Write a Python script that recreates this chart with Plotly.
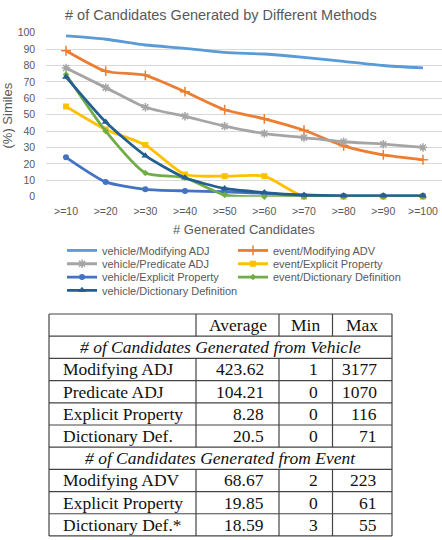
import plotly.graph_objects as go

W, H = 442, 540

categories = [">=10", ">=20", ">=30", ">=40", ">=50", ">=60", ">=70", ">=80", ">=90", ">=100"]
veh_mod_adj = [98, 96, 92.5, 90.5, 88, 87, 85, 82.5, 80, 78.5]
evt_mod_adv = [89, 76.5, 74, 64, 53, 47.5, 40.5, 31, 25.5, 22.5]
veh_pred_adj = [78.5, 66.5, 54.5, 49, 43, 38.5, 36, 33.5, 32, 30]
evt_expl_prop = [55, 41, 31.5, 13.5, 12.5, 12.5, 0, 0, 0, 0]
veh_expl_prop = [24, 9, 4.5, 3.5, 3, 2, 0.5, 0.5, 0.5, 0.5]
evt_dict_def = [74.5, 40, 14.5, 11.5, 1, 0, 0, 0, 0, 0]
veh_dict_def = [73, 45.5, 25, 11.5, 5, 2.5, 1, 0.5, 0.5, 0.5]

series_names = ["vehicle/Modifying ADJ", "event/Modifying ADV", "vehicle/Predicate ADJ",
                "event/Explicit Property", "vehicle/Explicit Property",
                "event/Dictionary Definition", "vehicle/Dictionary Definition"]
series_values = [veh_mod_adj, evt_mod_adv, veh_pred_adj, evt_expl_prop,
                 veh_expl_prop, evt_dict_def, veh_dict_def]

table_header = ["", "Average", "Min", "Max"]
vehicle_section = "# of Candidates Generated from Vehicle"
vehicle_rows = ["Modifying ADJ", "Predicate ADJ", "Explicit Property", "Dictionary Def."]
vehicle_avg = ["423.62", "104.21", "8.28", "20.5"]
vehicle_min = ["1", "0", "0", "0"]
vehicle_max = ["3177", "1070", "116", "71"]
event_section = "# of Candidates Generated from Event"
event_rows = ["Modifying ADV", "Explicit Property", "Dictionary Def.*"]
event_avg = ["68.67", "19.85", "18.59"]
event_min = ["2", "0", "3"]
event_max = ["223", "61", "55"]

colors = ["#5B9BD5", "#ED7D31", "#A5A5A5", "#FFC000", "#4472C4", "#70AD47", "#255E91"]
symbols = [None, "cross-thin", "asterisk", "square", "circle", "diamond", "triangle-up"]
sizes = [0, 7, 7, 6, 6, 5, 7]
legend_ids = ["legend", "legend", "legend2", "legend2", "legend3", "legend3", "legend4"]


def px(x):
    return x / W


def py(y):
    return 1 - y / H


fig = go.Figure()
for i, (name, vals) in enumerate(zip(series_names, series_values)):
    sym = symbols[i]
    if sym is None:
        mode = "lines"
        marker = None
    else:
        mode = "lines+markers"
        if sym in ("cross-thin", "asterisk"):
            marker = dict(symbol=sym, size=sizes[i], color=colors[i],
                          line=dict(color=colors[i], width=1.5))
        else:
            marker = dict(symbol=sym, size=sizes[i], color=colors[i],
                          line=dict(width=0))
    fig.add_trace(go.Scatter(
        x=categories, y=vals, name=name, mode=mode, marker=marker,
        line=dict(color=colors[i], width=2.8, shape="spline", smoothing=0.6),
        legend=legend_ids[i], cliponaxis=False,
    ))

grid = "#D9D9D9"
axis_font = dict(family="Liberation Sans, Arial, sans-serif", size=10.5, color="#595959")
fig.update_layout(
    width=W, height=H,
    margin=dict(l=0, r=0, t=0, b=0),
    paper_bgcolor="white", plot_bgcolor="white",
    xaxis=dict(type="category", domain=[px(46.2), 1], range=[-0.5, 9.48],
               showgrid=False, zeroline=False, showline=False,
               tickfont=axis_font, ticks="", ticklabelstandoff=7),
    yaxis=dict(domain=[py(195), py(27.3)], range=[0, 100], dtick=10,
               showgrid=True, gridcolor=grid, gridwidth=1, zeroline=False, showline=False,
               tickfont=axis_font, ticks="", ticklabelstandoff=10),
    showlegend=True,
)

leg_font = dict(family="Liberation Sans, Arial, sans-serif", size=11, color="#595959")
row_y = [250, 263.6, 277.2, 290.8]
entry_w = [126, 126, 126, 200]
for k, lid in enumerate(["legend", "legend2", "legend3", "legend4"]):
    fig.update_layout({lid: dict(orientation="h", x=px(62), xanchor="left",
                                 y=py(row_y[k]), yanchor="middle",
                                 font=leg_font, entrywidth=entry_w[k], entrywidthmode="pixels",
                                 bgcolor="rgba(0,0,0,0)", borderwidth=0,
                                 itemclick=False, itemdoubleclick=False)})

ann = []
ann.append(dict(text="# of Candidates Generated by Different Methods", x=px(221), y=py(9),
                xref="paper", yref="paper", xanchor="center", yanchor="middle", showarrow=False,
                font=dict(family="Liberation Sans, Arial, sans-serif", size=14.5, color="#595959")))
ann.append(dict(text="# Generated Candidates", x=px(244), y=py(229),
                xref="paper", yref="paper", xanchor="center", yanchor="middle", showarrow=False,
                font=dict(family="Liberation Sans, Arial, sans-serif", size=13, color="#595959")))
ann.append(dict(text="(%) Similes", x=px(8), y=py(112), textangle=-90,
                xref="paper", yref="paper", xanchor="center", yanchor="middle", showarrow=False,
                font=dict(family="Liberation Sans, Arial, sans-serif", size=13, color="#595959")))

# ---- table ----
tfont = dict(family="Liberation Serif, Times New Roman, serif", size=17.5, color="#111111")
col_x = [49, 196, 279, 332.5, 392]
row_top = 315
row_h = 22.7
n_rows = 10
lines = []
lc = "#444444"
lw = 1.2
for r in range(n_rows + 1):
    yy = row_top + r * row_h
    lines.append(dict(type="line", xref="paper", yref="paper", x0=px(col_x[0]), x1=px(col_x[-1]),
                      y0=py(yy), y1=py(yy), line=dict(color=lc, width=lw)))
for xx in (col_x[0], col_x[-1]):
    lines.append(dict(type="line", xref="paper", yref="paper", x0=px(xx), x1=px(xx),
                      y0=py(row_top), y1=py(row_top + n_rows * row_h), line=dict(color=lc, width=lw)))
section_rows = [1, 6]
for r in range(n_rows):
    if r in section_rows:
        continue
    y0 = row_top + r * row_h
    for xx in col_x[1:-1]:
        lines.append(dict(type="line", xref="paper", yref="paper", x0=px(xx), x1=px(xx),
                          y0=py(y0), y1=py(y0 + row_h), line=dict(color=lc, width=lw)))


def cell_center(r):
    return row_top + r * row_h + row_h / 2


for c in range(1, 4):
    ann.append(dict(text=table_header[c], x=px((col_x[c] + col_x[c + 1]) / 2), y=py(cell_center(0)),
                    xref="paper", yref="paper", xanchor="center", yanchor="middle", showarrow=False, font=tfont))
ann.append(dict(text="<i>" + vehicle_section + "</i>", x=px((col_x[0] + col_x[-1]) / 2), y=py(cell_center(1)),
                xref="paper", yref="paper", xanchor="center", yanchor="middle", showarrow=False, font=tfont))
ann.append(dict(text="<i>" + event_section + "</i>", x=px((col_x[0] + col_x[-1]) / 2), y=py(cell_center(6)),
                xref="paper", yref="paper", xanchor="center", yanchor="middle", showarrow=False, font=tfont))


def add_rows(start, labels, avg, mn, mx):
    for j, lab in enumerate(labels):
        r = start + j
        yc = py(cell_center(r))
        ann.append(dict(text=lab, x=px(col_x[0] + 12), y=yc, xref="paper", yref="paper",
                        xanchor="left", yanchor="middle", showarrow=False, font=tfont))
        for c, v in zip((1, 2, 3), (avg[j], mn[j], mx[j])):
            ann.append(dict(text=v, x=px(col_x[c + 1] - 13), y=yc, xref="paper", yref="paper",
                            xanchor="right", yanchor="middle", showarrow=False, font=tfont))


add_rows(2, vehicle_rows, vehicle_avg, vehicle_min, vehicle_max)
add_rows(7, event_rows, event_avg, event_min, event_max)

fig.update_layout(annotations=ann, shapes=lines)
fig.write_html("out.html")
